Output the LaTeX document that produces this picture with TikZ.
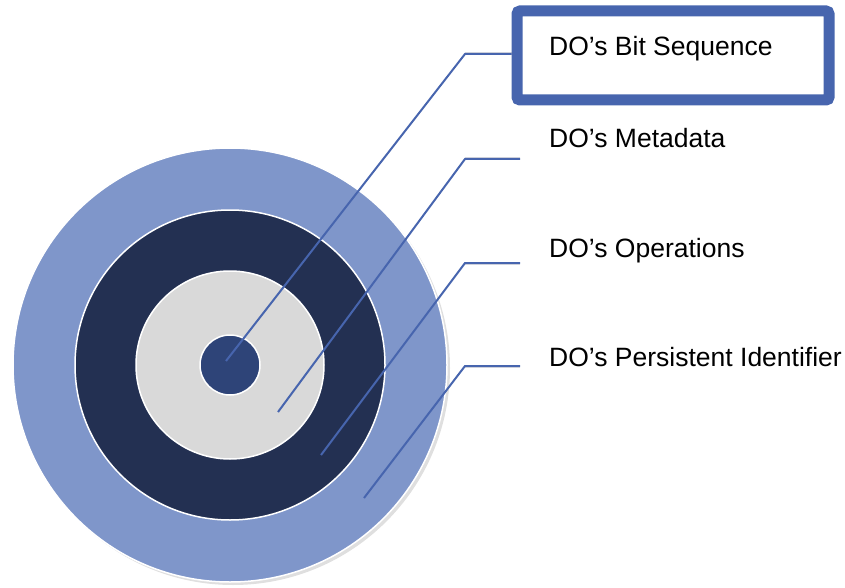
\documentclass[tikz,border=0pt]{standalone}
\usepackage{fontspec}
\setmainfont{Liberation Sans}
\usetikzlibrary{shadows}
\definecolor{outerblue}{HTML}{7F96CA}
\definecolor{darkring}{HTML}{233052}
\definecolor{lightring}{HTML}{D9D9D9}
\definecolor{corecol}{HTML}{2E4478}
\definecolor{linecol}{HTML}{4765AE}
\definecolor{boxcol}{HTML}{4765AE}
\begin{document}
\begin{tikzpicture}[x=1pt,y=-1pt,
  ring/.style={circle, draw=white, line width=1.5pt, inner sep=0pt},
  lbl/.style={anchor=base west, inner sep=0pt, font=\fontsize{26.5}{30}\selectfont},
  conn/.style={draw=linecol, line width=2pt},
  connshadow/.style={draw=black, opacity=0.12, line width=3pt}
]
\useasboundingbox (0,0) rectangle (845,588);
% target circles
\node[ring, fill=outerblue, minimum size=434pt,
  drop shadow={opacity=0.25, shadow xshift=3pt, shadow yshift=-3pt}] (outer) at (230,365) {};
\node[ring, fill=darkring, minimum size=310pt] (dark) at (230,365) {};
\node[ring, fill=lightring, minimum size=188pt] (light) at (230,365) {};
\node[ring, fill=corecol, minimum size=60pt] (core) at (230,365) {};
% box
\node[draw=boxcol, line width=11pt, rounded corners=3pt, minimum width=312pt, minimum height=89pt, inner sep=0pt] (box) at (673,55.5) {};
% labels
\node[lbl] (t1) at (549,56) {DO’s Bit Sequence};
\node[lbl] (t2) at (549,148) {DO’s Metadata};
\node[lbl] (t3) at (549,257) {DO’s Operations};
\node[lbl] (t4) at (549,366) {DO’s Persistent Identifier};
% connector points
\coordinate (p1) at (226,361);
\coordinate (e1) at (465,54);
\coordinate (p2) at (278,412);
\coordinate (e2) at (465,159);
\coordinate (f2) at (520,159);
\coordinate (p3) at (321,455);
\coordinate (e3) at (465,263);
\coordinate (f3) at (520,263);
\coordinate (p4) at (364,498);
\coordinate (e4) at (465,366);
\coordinate (f4) at (520,366);
% shadows of connectors
\begin{scope}[shift={(3,4)}]
\draw[connshadow] (e1) -- (e1 -| box.west);
\draw[connshadow] (e2) -- (f2);
\draw[connshadow] (e3) -- (f3);
\draw[connshadow] (e4) -- (f4);
\end{scope}
% connectors
\draw[conn] (p1) -- (e1) -- (e1 -| box.west);
\draw[conn] (p2) -- (e2) -- (f2);
\draw[conn] (p3) -- (e3) -- (f3);
\draw[conn] (p4) -- (e4) -- (f4);
\end{tikzpicture}
\end{document}
